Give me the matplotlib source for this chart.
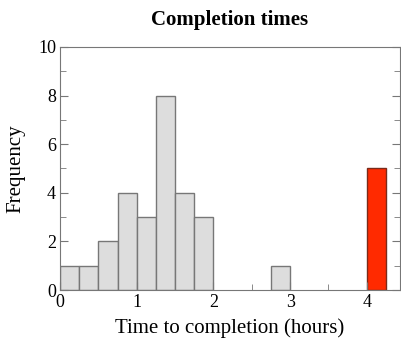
import numpy as np
import matplotlib.pyplot as plt

# bin left edges (hours) and counts
bin_left = [0.0, 0.25, 0.5, 0.75, 1.0, 1.25, 1.5, 1.75, 2.75]
counts = [1, 1, 2, 4, 3, 8, 4, 3, 1]
outlier_left = [4.0]
outlier_count = [5]
bin_width = 0.25

plt.rcParams['font.family'] = ['Liberation Serif', 'DejaVu Serif']

fig = plt.figure(figsize=(4.01, 3.38), dpi=100)
ax = fig.add_axes([0.15, 0.142, 0.847, 0.719])

ax.bar(bin_left, counts, width=bin_width, align='edge',
       color='#dddddd', edgecolor='#777777', linewidth=1)
ax.bar(outlier_left, outlier_count, width=bin_width, align='edge',
       color='#ff2a00', edgecolor='#7a2a1a', linewidth=1)

ax.set_xlim(0, 4.43)
ax.set_ylim(0, 10)
ax.set_xticks([0, 1, 2, 3, 4])
ax.set_xticks([0.5, 1.5, 2.5, 3.5], minor=True)
ax.set_yticks([0, 2, 4, 6, 8, 10])
ax.set_yticks([1, 3, 5, 7, 9], minor=True)
ax.tick_params(which='both', direction='in', right=True, colors='#777777',
               labelcolor='black', labelsize=13, pad=3)
ax.tick_params(which='major', length=6)
ax.tick_params(which='minor', length=4)
for s in ax.spines.values():
    s.set_color('#777777')

ax.set_xlabel('Time to completion (hours)', fontsize=15, labelpad=5)
ax.set_ylabel('Frequency', fontsize=15, labelpad=9)
ax.set_title('Completion times', fontsize=15, fontweight='bold', pad=16)

fig.savefig('out.png', dpi=100)
